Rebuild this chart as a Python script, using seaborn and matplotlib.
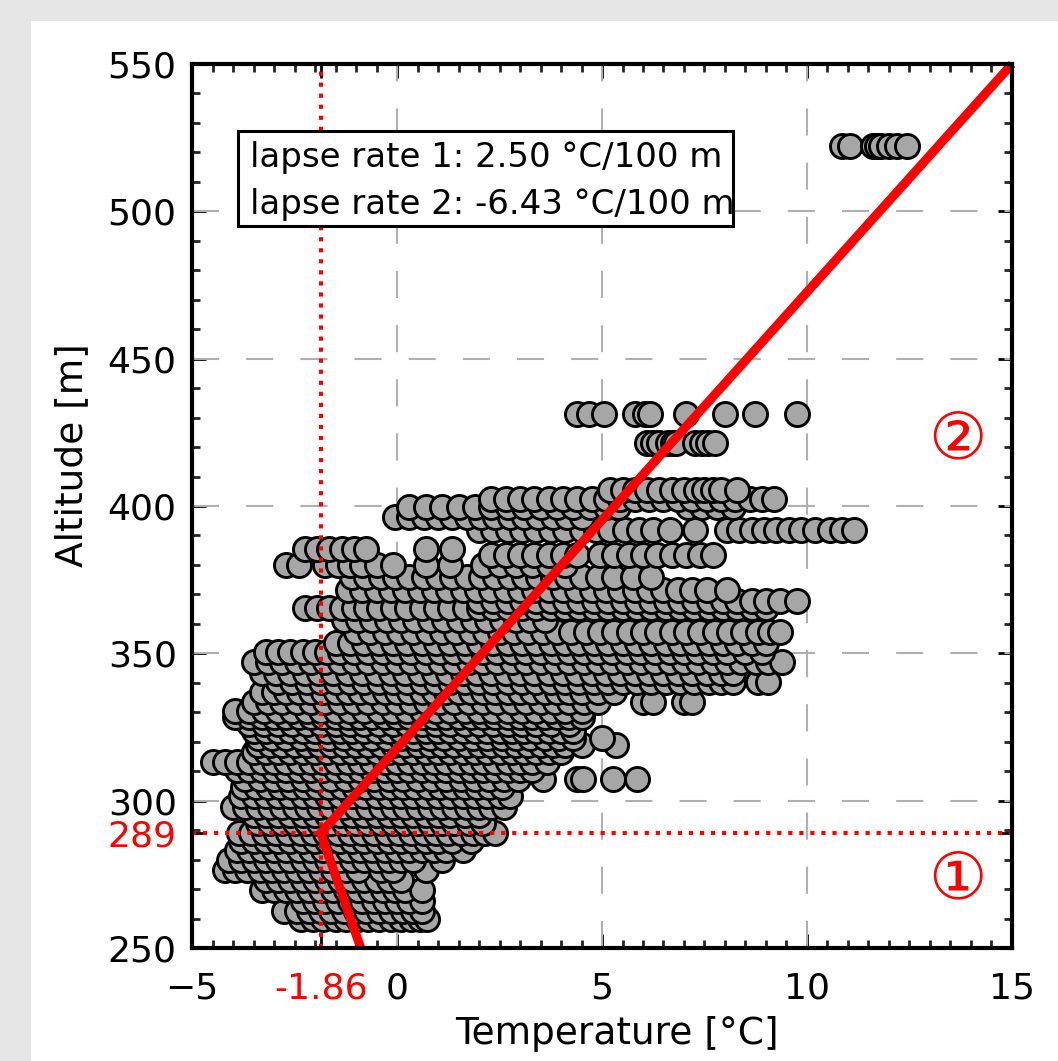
import numpy as np
import pandas as pd
import matplotlib.pyplot as plt
import seaborn as sns
from matplotlib.patches import Rectangle
from matplotlib.ticker import MultipleLocator

# measurement levels (m) and the temperatures (°C) logged at each level
alt_levels = [259.7, 262.4, 266.1, 269.8, 273.2, 276.6, 279.9, 283.4, 286.4, 289.0,
              292.4, 295.3, 298.0, 301.6, 304.6, 307.4, 310.4, 313.2, 316.4, 319.0,
              321.2, 323.6, 326.1, 328.4, 330.4, 333.5, 336.8, 340.2, 343.4, 346.9,
              350.3, 353.6, 357.3, 361.3, 365.4, 367.8, 371.6, 375.8, 380.0, 383.5,
              385.5, 392.0, 396.3, 399.5, 402.5, 405.4, 421.4, 431.2, 522.2]

temp_levels = [
    [-2.35, -2.05, -1.8, -1.5, -1.25, -0.95, -0.7, -0.45, -0.15, 0.1, 0.35, 0.55, 0.72],
    [-2.75, -2.45, -2.15, -1.85, -1.6, -1.3, -1.0, -0.75, -0.45, -0.15, 0.15, 0.4, 0.6],
    [-2.3, -2.0, -1.75, -1.45, -1.15, -0.85, -0.55, -0.3, 0.0, 0.3, 0.6],
    [-3.3, -3.0, -2.7, -2.45, -2.15, -1.85, -1.55, -1.25, -0.95, -0.65, -0.35, -0.05, 0.2, 0.62],
    [-3.2, -2.9, -2.6, -2.3, -2.0, -1.7, -1.4, -1.1, -0.8, -0.5, -0.2, 0.1],
    [-4.2, -3.95, -3.65, -3.35, -3.05, -2.75, -2.45, -2.15, -1.85, -1.55, -1.25, -0.95, -0.4, -0.1, 0.7],
    [-4.1, -3.8, -3.5, -3.2, -2.9, -2.6, -2.3, -2.0, -1.7, -1.4, -1.1, -0.8, -0.5, -0.2, 0.1, 0.4, 1.1],
    [-3.9, -3.6, -3.3, -3.0, -2.7, -2.4, -2.1, -1.8, -1.5, -1.2, -0.9, -0.6, -0.3, 0.0, 0.3, 0.6, 0.9, 1.2, 1.6],
    [-3.8, -3.5, -3.2, -2.9, -2.6, -2.3, -2.0, -1.7, -1.4, -1.1, -0.8, -0.5, -0.2, 0.1, 0.4, 0.7, 1.0, 1.35, 1.8],
    [-3.85, -3.55, -3.25, -2.95, -2.65, -2.35, -2.05, -1.75, -1.45, -1.15, -0.85, -0.55, -0.25, 0.05,
     0.35, 0.65, 0.95, 1.25, 1.55, 1.85, 2.15, 2.4],
    [-3.4, -3.1, -2.8, -2.5, -2.2, -1.9, -1.6, -1.3, -1.0, -0.7, -0.4, -0.1, 0.2, 0.5, 0.8, 1.1, 1.4, 1.75, 2.1],
    [-3.5, -3.2, -2.9, -2.6, -2.3, -2.0, -1.7, -1.4, -1.1, -0.8, -0.5, -0.2, 0.1, 0.4, 0.7, 1.0, 1.3, 1.65, 2.0],
    [-4.0, -3.7, -3.4, -3.1, -2.8, -2.5, -2.2, -1.9, -1.6, -1.3, -1.0, -0.7, -0.4, -0.1, 0.2, 0.5, 0.8,
     1.1, 1.4, 1.7, 2.0, 2.3, 2.6],
    [-3.8, -3.5, -3.2, -2.9, -2.6, -2.3, -2.0, -1.7, -1.4, -1.1, -0.8, -0.5, -0.2, 0.1, 0.4, 0.7, 1.0,
     1.3, 1.6, 1.9, 2.2, 2.5, 2.75],
    [-3.75, -3.45, -3.15, -2.85, -2.55, -2.25, -1.95, -1.65, -1.35, -1.05, -0.75, -0.45, -0.15, 0.15,
     0.45, 0.75, 1.05, 1.35, 1.65, 1.95, 2.25, 2.55],
    [-3.7, -3.35, -3.0, -2.65, -2.3, -1.95, -1.6, -1.25, -0.9, -0.55, -0.2, 0.15, 0.5, 0.85, 1.2, 1.55,
     1.9, 2.25, 2.6, 2.95, 3.57, 4.4, 4.54, 5.27, 5.85],
    [-3.9, -3.6, -3.3, -3.0, -2.7, -2.4, -2.1, -1.8, -1.5, -1.2, -0.9, -0.6, -0.3, 0.0, 0.3, 0.6, 0.9,
     1.2, 1.5, 1.8, 2.1, 2.4, 2.7, 3.0, 3.3],
    [-4.5, -4.2, -3.9, -3.6, -3.3, -3.0, -2.7, -2.4, -2.1, -1.8, -1.5, -1.2, -0.9, -0.6, -0.3, 0.0, 0.3,
     0.6, 0.9, 1.2, 1.5, 1.8, 2.1, 2.4, 2.7, 3.0, 3.3, 3.65],
    [-3.5, -3.2, -2.9, -2.6, -2.3, -2.0, -1.7, -1.4, -1.1, -0.8, -0.5, -0.2, 0.1, 0.4, 0.7, 1.0, 1.3,
     1.6, 1.9, 2.2, 2.5, 2.8, 3.1, 3.4, 3.7, 4.0],
    [-3.4, -3.1, -2.8, -2.5, -2.2, -1.9, -1.6, -1.3, -1.0, -0.7, -0.4, -0.1, 0.2, 0.5, 0.8, 1.1, 1.4,
     1.7, 2.0, 2.3, 2.6, 2.9, 3.2, 3.5, 3.8, 4.1, 4.5, 5.35],
    [-3.4, -3.05, -2.7, -2.35, -2.0, -1.65, -1.3, -0.95, -0.6, -0.25, 0.1, 0.45, 0.8, 1.15, 1.5, 1.85,
     2.2, 2.55, 2.9, 3.25, 3.6, 3.95, 4.3, 5.0],
    [-3.5, -3.2, -2.9, -2.6, -2.3, -2.0, -1.7, -1.4, -1.1, -0.8, -0.5, -0.2, 0.1, 0.4, 0.7, 1.0, 1.3,
     1.6, 1.9, 2.2, 2.5, 2.8, 3.1, 3.4, 3.7, 4.0, 4.3],
    [-3.6, -3.25, -2.9, -2.55, -2.2, -1.85, -1.5, -1.15, -0.8, -0.45, -0.1, 0.25, 0.6, 0.95, 1.3, 1.65,
     2.0, 2.35, 2.7, 3.05, 3.4, 3.75, 4.2],
    [-3.95, -3.6, -3.3, -3.0, -2.7, -2.4, -2.1, -1.8, -1.5, -1.2, -0.9, -0.6, -0.3, 0.0, 0.3, 0.6, 0.9,
     1.2, 1.5, 1.8, 2.1, 2.4, 2.7, 3.0, 3.3, 3.6, 3.9, 4.2, 4.5],
    [-3.95, -3.6, -3.25, -2.9, -2.55, -2.2, -1.85, -1.5, -1.15, -0.8, -0.45, -0.1, 0.25, 0.6, 0.95, 1.3,
     1.65, 2.0, 2.35, 2.7, 3.05, 3.4, 3.75, 4.1, 4.5],
    [-3.5, -3.15, -2.8, -2.45, -2.1, -1.75, -1.4, -1.05, -0.7, -0.35, 0.0, 0.35, 0.7, 1.05, 1.4, 1.75,
     2.1, 2.45, 2.8, 3.15, 3.5, 3.85, 4.2, 4.55, 4.9, 6.0, 6.25, 7.0, 7.2],
    [-3.3, -3.0, -2.7, -2.4, -2.1, -1.8, -1.5, -1.2, -0.9, -0.6, -0.3, 0.0, 0.3, 0.6, 0.9, 1.2, 1.5,
     1.8, 2.1, 2.4, 2.7, 3.0, 3.3, 3.6, 3.9, 4.2, 4.5, 4.9, 5.3],
    [-2.9, -2.55, -2.2, -1.85, -1.5, -1.15, -0.8, -0.45, -0.1, 0.25, 0.6, 0.95, 1.3, 1.65, 2.0, 2.35,
     2.7, 3.05, 3.4, 3.75, 4.1, 4.45, 4.8, 5.15, 5.5, 5.85, 6.2, 6.55, 6.9, 7.25, 7.6, 7.9, 8.2, 8.8, 9.05],
    [-3.3, -2.95, -2.6, -2.25, -1.9, -1.55, -1.2, -0.85, -0.5, -0.15, 0.2, 0.55, 0.9, 1.25, 1.6, 1.95,
     2.3, 2.65, 3.0, 3.35, 3.7, 4.05, 4.4, 4.75, 5.1, 5.45, 5.8, 6.15, 6.5, 6.85, 7.2, 7.55, 7.9, 8.2],
    [-3.5, -3.15, -2.8, -2.45, -2.1, -1.75, -1.4, -1.05, -0.7, -0.35, 0.0, 0.35, 0.7, 1.05, 1.4, 1.75,
     2.1, 2.45, 2.8, 3.15, 3.5, 3.85, 4.2, 4.55, 4.9, 5.25, 5.6, 5.95, 6.3, 6.65, 7.0, 7.35, 7.7, 8.05,
     8.4, 8.75, 9.05, 9.4],
    [-3.2, -2.9, -2.6, -2.3, -2.0, -1.7, -1.4, -1.05, -0.7, -0.35, 0.0, 0.35, 0.7, 1.05, 1.4, 1.75, 2.1,
     2.45, 2.8, 3.15, 3.5, 3.85, 4.2, 4.55, 4.9, 5.25, 5.6, 5.95, 6.3, 6.65, 7.0, 7.35, 7.7, 8.05, 8.5, 8.9],
    [-1.5, -1.15, -0.8, -0.45, -0.1, 0.25, 0.6, 0.95, 1.3, 1.65, 2.0, 2.35, 2.7, 3.05, 3.4, 3.75, 4.1,
     4.45, 4.8, 5.15, 5.5, 5.85, 6.2, 6.55, 6.9, 7.25, 7.6, 7.95, 8.3, 8.65, 9.0],
    [-1.0, -0.65, -0.3, 0.05, 0.4, 0.75, 1.1, 1.45, 1.8, 2.15, 2.5, 2.85, 3.2, 3.55, 3.9, 4.25, 4.6,
     4.95, 5.3, 5.65, 6.0, 6.35, 6.7, 7.05, 7.4, 7.75, 8.1, 8.45, 8.8, 9.1, 9.35],
    [-1.3, -0.95, -0.6, -0.25, 0.1, 0.45, 0.8, 1.15, 1.5, 1.85, 2.2, 2.55, 2.9, 3.25, 3.6],
    [-2.25, -1.95, -1.65, -1.35, -1.05, -0.75, -0.45, -0.1, 0.25, 0.6, 0.95, 1.3, 1.65, 2.0, 2.35, 2.7,
     3.05, 3.4, 3.75, 4.1, 4.45, 4.8, 5.15, 5.5, 5.85, 6.2, 6.55, 6.9, 7.25, 7.6, 7.95, 8.3, 8.65, 9.0],
    [2.0, 2.35, 2.7, 3.05, 3.4, 3.75, 4.1, 4.45, 4.8, 5.15, 5.5, 5.85, 6.2, 6.55, 6.9, 7.25, 7.6, 7.95,
     8.3, 8.65, 9.0, 9.35, 9.75],
    [-1.2, -0.85, -0.5, -0.15, 0.2, 0.55, 0.9, 1.25, 1.6, 1.95, 2.3, 2.65, 3.0, 3.35, 3.7, 4.05, 4.4,
     4.75, 5.1, 5.45, 5.8, 6.15, 6.5, 6.85, 7.2, 7.55, 8.05],
    [-1.1, -0.75, -0.4, -0.05, 0.3, 0.65, 1.0, 1.35, 1.7, 2.05, 2.4, 2.75, 3.1, 3.45, 3.8, 4.15, 4.5,
     4.9, 5.3, 5.75, 6.2],
    [-2.7, -2.4, -1.75, -1.45, -1.15, -0.85, -0.5, -0.1, 0.7, 1.3, 2.1, 2.5, 2.9, 3.3, 3.7, 4.1],
    [2.3, 2.65, 3.0, 3.35, 3.7, 4.05, 4.4, 4.95, 5.3, 5.65, 6.0, 6.35, 6.7, 7.05, 7.4, 7.7],
    [-2.25, -1.95, -1.65, -1.35, -1.05, -0.75, 0.7, 1.35],
    [2.0, 2.35, 2.7, 3.05, 3.4, 3.75, 4.1, 4.5, 4.85, 5.2, 5.55, 5.9, 6.25, 6.65, 7.27, 8.05, 8.35, 8.65,
     8.95, 9.25, 9.55, 9.85, 10.2, 10.55, 10.85, 11.15],
    [-0.05, 0.3, 0.65, 1.0, 1.35, 1.7, 2.05, 2.4, 2.75, 3.1, 3.45, 3.8, 4.15, 4.5],
    [0.3, 0.7, 1.1, 1.5, 1.9, 2.3, 2.7, 3.1, 3.5, 3.9, 4.3, 4.7, 5.1, 5.4, 7.1, 7.45, 7.8, 8.2],
    [2.3, 2.65, 3.0, 3.35, 3.7, 4.05, 4.4, 4.75, 5.1, 5.45, 5.8, 6.15, 6.5, 6.85, 7.2, 7.55, 7.9, 8.25,
     8.6, 8.9, 9.2],
    [5.2, 5.5, 5.8, 6.1, 6.4, 6.7, 7.0, 7.3, 7.5, 7.7, 7.9, 8.3],
    [6.1, 6.25, 6.4, 6.6, 6.73, 6.8, 7.27, 7.44, 7.59, 7.76],
    [4.39, 4.68, 5.05, 5.8, 6.05, 6.17, 7.05, 8.0, 8.73, 9.76],
    [10.85, 11.05, 11.6, 11.7, 11.8, 12.0, 12.2, 12.45],
]

# two-segment profile fit
break_t = -1.86
break_z = 289
fit_t = [-0.885, break_t, 15.0]
fit_z = [250, break_z, 550]
rate_1 = 2.50
rate_2 = -6.43

rows = []
for z, ts in zip(alt_levels, temp_levels):
    for t in ts:
        rows.append((t, z))
df = pd.DataFrame(rows, columns=['temperature', 'altitude'])

sns.set_theme(style='ticks')
plt.rcParams['font.family'] = ['DejaVu Sans']
plt.rcParams['text.color'] = 'black'
plt.rcParams['axes.labelcolor'] = 'black'

fig = plt.figure(figsize=(10.58, 10.61), dpi=100, facecolor='#e6e6e6')
fig.add_artist(Rectangle((31 / 1058, 0), 1, 1 - 21 / 1061, transform=fig.transFigure,
                         facecolor='white', edgecolor='none', zorder=-1))
ax = fig.add_axes([0.1815, 0.1065, 0.775, 0.8332])
ax.set_facecolor('white')

# dashed grid at the major ticks
for gx in [0, 5, 10]:
    ax.axvline(gx, color='#b0b0b0', lw=1.5, ls=(0, (13, 13)), zorder=1)
for gy in [300, 350, 400, 450, 500]:
    ax.axhline(gy, color='#b0b0b0', lw=1.5, ls=(0, (13, 13)), zorder=1)

sns.scatterplot(data=df, x='temperature', y='altitude', ax=ax, color='#a6a6a6',
                edgecolor='black', linewidth=2.1, s=300, zorder=3, legend=False)

ax.plot(fit_t, fit_z, color='red', lw=6.5, zorder=4, clip_on=False, solid_capstyle='butt')
ax.axvline(break_t, color='red', ls=':', lw=3, zorder=5)
ax.axhline(break_z, color='red', ls=':', lw=3, zorder=5)

ax.set_xlim(-5, 15)
ax.set_ylim(250, 550)
ax.set_xticks([-5, break_t, 0, 5, 10, 15])
ax.set_xticklabels(['\u22125', '%.2f' % break_t, '0', '5', '10', '15'])
ax.set_yticks([250, break_z, 300, 350, 400, 450, 500, 550])
ax.set_yticklabels(['250', str(break_z), '300', '350', '400', '450', '500', '550'])
ax.xaxis.set_minor_locator(MultipleLocator(0.5))
ax.yaxis.set_minor_locator(MultipleLocator(10))
ax.tick_params(which='major', direction='in', length=10, width=2, top=True, right=True,
               labelsize=26, colors='black')
ax.tick_params(which='minor', direction='in', length=5.5, width=2, top=True, right=True)
ax.tick_params(axis='x', which='major', pad=17)
ax.tick_params(axis='y', which='major', pad=11)
ax.get_xticklabels()[1].set_color('red')
ax.get_yticklabels()[1].set_color('red')
for sp in ax.spines.values():
    sp.set_linewidth(3)
    sp.set_color('black')
    sp.set_zorder(6)

ax.set_xlabel('Temperature [°C]', fontsize=27)
ax.set_ylabel('Altitude [m]', fontsize=27)
ax.xaxis.set_label_coords(0.518, -0.077)
ax.yaxis.set_label_coords(-0.124, 0.558)

ax.add_patch(Rectangle((0.056, 0.817), 0.604, 0.107, transform=ax.transAxes,
                       facecolor='white', edgecolor='black', lw=2.2, zorder=7))
ax.text(0.071, 0.894, 'lapse rate 1: %.2f °C/100 m' % rate_1, transform=ax.transAxes,
        fontsize=24.5, ha='left', va='center', color='black', zorder=8)
ax.text(0.071, 0.841, 'lapse rate 2: %.2f °C/100 m' % rate_2, transform=ax.transAxes,
        fontsize=24.5, ha='left', va='center', color='black', zorder=8)

ax.text(13.68, 422.4, '\u2461', color='red', fontsize=47, ha='center', va='center', zorder=8)
ax.text(13.68, 273.1, '\u2460', color='red', fontsize=47, ha='center', va='center', zorder=8)

fig.savefig('out.png', dpi=100, facecolor=fig.get_facecolor())
